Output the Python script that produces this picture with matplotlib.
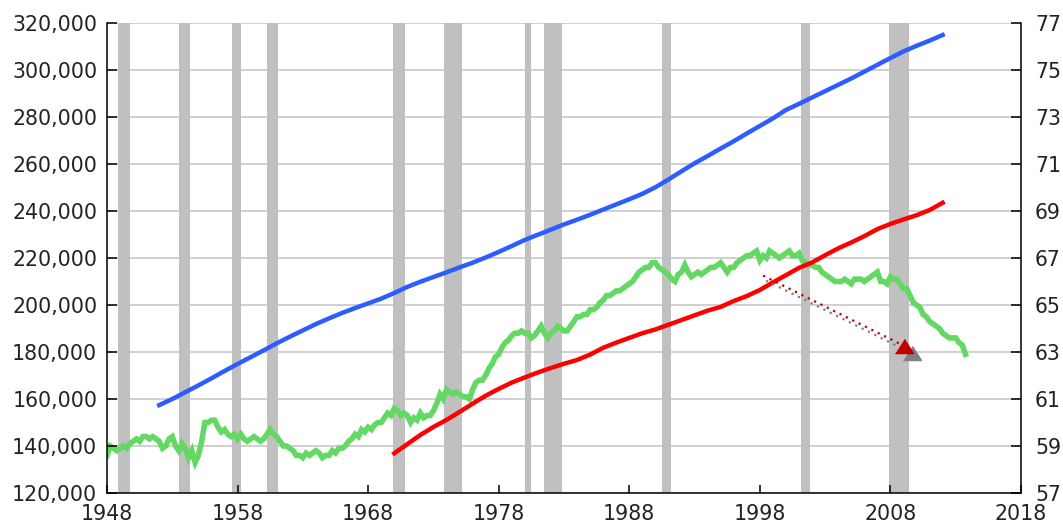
import matplotlib
matplotlib.use("Agg")
import matplotlib.pyplot as plt
from matplotlib.ticker import FuncFormatter
from matplotlib.transforms import offset_copy

# ---------------- data ----------------
# Participation rate (right axis), quarterly from 1948.0
green_start = 1948.0
green_step = 0.25
green_values = [
    58.6, 59.0, 58.9, 58.8,   # 1948
    58.9, 59.0, 58.9, 59.1,   # 1949
    59.2, 59.3, 59.2, 59.4,   # 1950
    59.4, 59.3, 59.4, 59.3,   # 1951
    59.2, 58.9, 59.0, 59.3,   # 1952
    59.4, 59.0, 58.8, 59.1,   # 1953
    58.9, 58.5, 58.8, 58.3,   # 1954
    58.6, 59.2, 60.0, 60.0,   # 1955
    60.1, 60.1, 59.8, 59.6,   # 1956
    59.7, 59.5, 59.4, 59.5,   # 1957
    59.3, 59.5, 59.3, 59.2,   # 1958
    59.3, 59.4, 59.3, 59.2,   # 1959
    59.3, 59.5, 59.7, 59.5,   # 1960
    59.4, 59.2, 59.0, 59.0,   # 1961
    58.9, 58.8, 58.6, 58.6,   # 1962
    58.5, 58.7, 58.6, 58.7,   # 1963
    58.8, 58.7, 58.5, 58.6,   # 1964
    58.6, 58.8, 58.7, 58.9,   # 1965
    58.9, 59.0, 59.2, 59.3,   # 1966
    59.5, 59.4, 59.7, 59.6,   # 1967
    59.8, 59.7, 59.9, 60.0,   # 1968
    60.0, 60.2, 60.4, 60.3,   # 1969
    60.6, 60.5, 60.3, 60.4,   # 1970
    60.3, 60.0, 60.2, 60.1,   # 1971
    60.4, 60.2, 60.3, 60.3,   # 1972
    60.5, 60.8, 61.2, 61.0,   # 1973
    61.4, 61.3, 61.2, 61.3,   # 1974
    61.2, 61.1, 61.1, 61.0,   # 1975
    61.4, 61.7, 61.8, 61.8,   # 1976
    62.0, 62.3, 62.5, 62.8,   # 1977
    62.9, 63.2, 63.4, 63.5,   # 1978
    63.7, 63.8, 63.8, 63.9,   # 1979
    63.8, 63.8, 63.6, 63.7,   # 1980
    63.9, 64.1, 63.8, 63.6,   # 1981
    63.8, 63.9, 64.1, 64.0,   # 1982
    63.9, 63.9, 64.1, 64.3,   # 1983
    64.5, 64.5, 64.6, 64.6,   # 1984
    64.8, 64.8, 64.9, 65.1,   # 1985
    65.2, 65.4, 65.4, 65.5,   # 1986
    65.6, 65.6, 65.7, 65.8,   # 1987
    65.9, 66.0, 66.2, 66.4,   # 1988
    66.5, 66.6, 66.6, 66.8,   # 1989
    66.8, 66.6, 66.5, 66.4,   # 1990
    66.3, 66.1, 66.0, 66.3,   # 1991
    66.4, 66.7, 66.4, 66.2,   # 1992
    66.3, 66.4, 66.3, 66.4,   # 1993
    66.5, 66.6, 66.6, 66.7,   # 1994
    66.8, 66.6, 66.4, 66.6,   # 1995
    66.6, 66.8, 66.9, 67.0,   # 1996
    67.1, 67.1, 67.2, 67.3,   # 1997
    66.9, 67.1, 67.0, 67.3,   # 1998
    67.2, 67.1, 67.0, 67.1,   # 1999
    67.2, 67.3, 67.1, 67.1,   # 2000
    67.2, 66.9, 66.8, 66.7,   # 2001
    66.7, 66.6, 66.6, 66.4,   # 2002
    66.3, 66.2, 66.1, 66.0,   # 2003
    66.0, 66.0, 66.1, 66.0,   # 2004
    65.9, 66.1, 66.1, 66.1,   # 2005
    66.0, 66.1, 66.2, 66.3,   # 2006
    66.4, 66.0, 66.0, 65.9,   # 2007
    66.2, 66.1, 66.1, 65.9,   # 2008
    65.7, 65.7, 65.4, 65.1,   # 2009
    65.0, 64.9, 64.6, 64.5,   # 2010
    64.3, 64.2, 64.1, 64.0,   # 2011
    63.8, 63.7, 63.6, 63.6,   # 2012
    63.6, 63.4, 63.3, 62.9,   # 2013
]

# Population (left axis, thousands), annual
blue_years = list(range(1952, 2013))
blue_values = [
    157400, 160000, 162900, 165800, 168800, 171900, 174900, 177800, 180700, 183700,
    186500, 189200, 191900, 194300, 196600, 198700, 200700, 202700, 205100, 207700,
    209900, 211900, 213900, 216000, 218000, 220200, 222600, 225100, 227700, 229900,
    232100, 234300, 236300, 238400, 240600, 242800, 245000, 247300, 250100, 253400,
    256900, 260300, 263400, 266600, 269700, 273000, 276200, 279400, 283000, 285600,
    288300, 291000, 293700, 296400, 299300, 302200, 305100, 307900, 310300, 312500,
    314900,
]

# Civilian noninstitutional population (left axis, thousands), annual
red_years = list(range(1970, 2013))
red_values = [
    136900, 140800, 144700, 148100, 151100, 154500, 158000, 161400, 164300, 167000,
    169200, 171300, 173200, 175000, 176600, 178900, 181800, 184000, 186000, 188000,
    189600, 191600, 193600, 195600, 197600, 199200, 201700, 203800, 206400, 209600,
    212700, 215800, 218100, 221200, 224100, 226600, 229300, 232300, 234500, 236400,
    238200, 240400, 243500,
]

# Recession periods
rec_start = [1948.83, 1953.5, 1957.58, 1960.25, 1969.92, 1973.83, 1980.0, 1981.5, 1990.5, 2001.17, 2007.92]
rec_end = [1949.75, 1954.33, 1958.25, 1961.08, 1970.83, 1975.17, 1980.5, 1982.83, 1991.17, 2001.83, 2009.45]

# Trend arrow (left-axis coordinates)
arrow_x = [1998.25, 2009.05]
arrow_y = [212500, 182600]

left_ticks = list(range(120000, 320001, 20000))
right_ticks = list(range(57, 78, 2))
x_ticks = list(range(1948, 2019, 10))

# ---------------- figure ----------------
fig = plt.figure(figsize=(10.63, 5.25), dpi=100)
fig.patch.set_facecolor("white")
rect = [107 / 1063, 32 / 525, 914 / 1063, 470 / 525]
ax = fig.add_axes(rect)
axr = ax.twinx()
ax.set_zorder(axr.get_zorder() + 1)
ax.patch.set_visible(False)
axr.patch.set_visible(True)
axr.patch.set_facecolor("white")

font = dict(family="DejaVu Sans", size=14.8, color="#222222")

# background layer (right axis): grid, recessions, green line
axr.set_ylim(57, 77)
axr.set_yticks(right_ticks)
axr.set_axisbelow(True)
axr.yaxis.grid(True, color="#c8c8c8", linewidth=1.2)
for s, e in zip(rec_start, rec_end):
    axr.axvspan(s, e, color="#c0c0c0", lw=0, zorder=1)
gx = [green_start + i * green_step for i in range(len(green_values))]
axr.plot(gx, green_values, color="#63d863", lw=4.0, zorder=2, solid_joinstyle="miter")

# foreground layer (left axis): blue, red, arrow
ax.set_xlim(1948, 2018)
ax.set_ylim(120000, 320000)
ax.set_xticks(x_ticks)
ax.set_yticks(left_ticks)
ax.plot(blue_years, blue_values, color="#2d5cff", lw=3.2, zorder=3)
ax.plot(red_years, red_values, color="#ff0000", lw=3.2, zorder=3)

tri = [(-1, -0.78), (1, -0.78), (0, 0.78)]
shadow_line = offset_copy(ax.transData, fig=fig, x=3, y=-5, units="dots")
shadow_tri = offset_copy(ax.transData, fig=fig, x=8, y=-7, units="dots")
ax.plot(arrow_x, arrow_y, color="#808080", lw=1.6, linestyle=(0, (1, 2.2)),
        dash_capstyle="butt", transform=shadow_line, zorder=4)
ax.plot([arrow_x[1]], [arrow_y[1]], marker=tri, markersize=13, color="#808080",
        linestyle="none", transform=shadow_tri, zorder=4)
ax.plot(arrow_x, arrow_y, color="#c00000", lw=1.6, linestyle=(0, (1, 2.2)),
        dash_capstyle="butt", zorder=5)
ax.plot([arrow_x[1]], [arrow_y[1]], marker=tri, markersize=13, color="#c00000",
        linestyle="none", zorder=5)

# formatting
ax.yaxis.set_major_formatter(FuncFormatter(lambda v, p: f"{int(v):,}"))
for a in (ax, axr):
    for sp in a.spines.values():
        sp.set_visible(False)
ax.spines["left"].set_visible(True)
ax.spines["bottom"].set_visible(True)
axr.spines["right"].set_visible(True)
for sp in (ax.spines["left"], ax.spines["bottom"], axr.spines["right"]):
    sp.set_color("black")
    sp.set_linewidth(1.1)

ax.tick_params(axis="y", direction="in", length=7, width=1.1, pad=7,
               labelsize=font["size"], labelcolor=font["color"])
ax.tick_params(axis="x", direction="in", length=6, width=1.1, pad=8,
               labelsize=font["size"], labelcolor=font["color"])
axr.tick_params(axis="y", direction="in", length=7, width=1.1, pad=10,
                labelsize=font["size"], labelcolor=font["color"])
for lab in ax.get_xticklabels() + ax.get_yticklabels() + axr.get_yticklabels():
    lab.set_family(font["family"])

fig.savefig("out.png", dpi=100, facecolor="white")
